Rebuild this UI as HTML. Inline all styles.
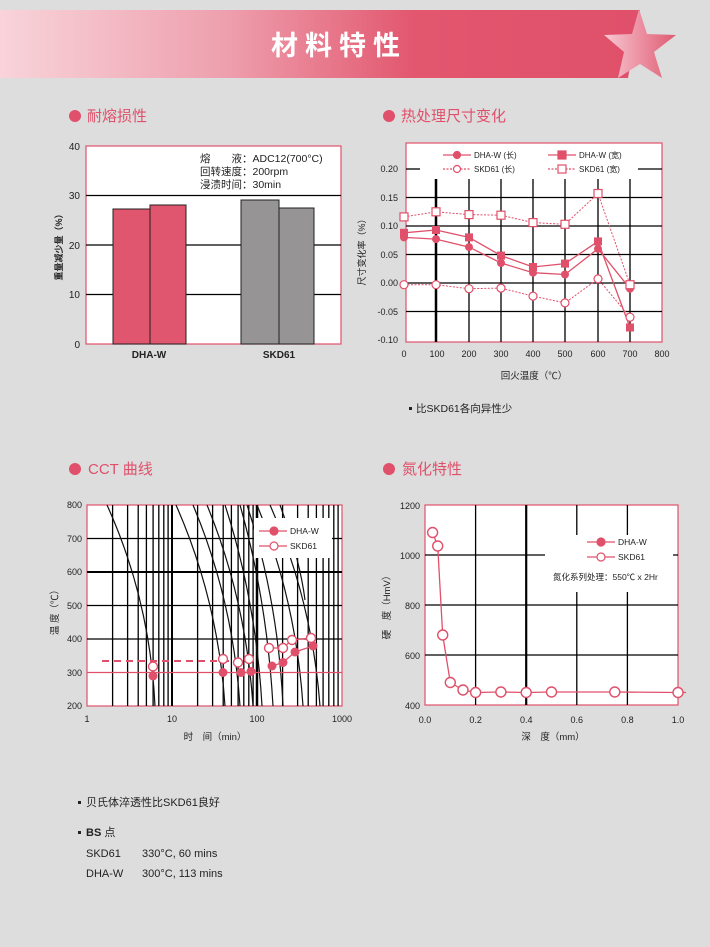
<!DOCTYPE html>
<html><head><meta charset="utf-8"><style>
html,body{margin:0;padding:0;background:#dddddd;}
svg{display:block;font-family:"Liberation Sans","Noto Sans CJK SC",sans-serif;}
</style></head><body>
<svg width="710" height="947" viewBox="0 0 710 947" xmlns="http://www.w3.org/2000/svg">
<defs>
<linearGradient id="bn" x1="0" x2="1" y1="0" y2="0">
<stop offset="0" stop-color="#f8d4da"/><stop offset="0.35" stop-color="#eea0ae"/><stop offset="0.65" stop-color="#e2566e"/><stop offset="1" stop-color="#e0506a"/></linearGradient>
<linearGradient id="st" x1="0" x2="1"><stop offset="0" stop-color="#f7c8d2"/><stop offset="1" stop-color="#e05a72"/></linearGradient>
</defs>
<rect width="710" height="947" fill="#dddddd"/>
<!-- banner -->
<polygon points="0,10 640,10 628,78 0,78" fill="url(#bn)"/>
<polygon points="639,9 647,34 676,35 654,52 662,78 640,64 618,78 624,52 604,35 632,34" fill="url(#st)"/>
<text x="339" y="55" font-size="27" font-weight="bold" fill="#fff" text-anchor="middle" letter-spacing="7">材料特性</text>

<!-- section headers -->
<g fill="#e0506a" font-size="15">
<circle cx="75" cy="116" r="6"/><text x="87" y="121">耐熔损性</text>
<circle cx="389" cy="116" r="6"/><text x="401" y="121">热处理尺寸变化</text>
<circle cx="75" cy="469" r="6"/><text x="88" y="474">CCT 曲线</text>
<circle cx="389" cy="469" r="6"/><text x="402" y="474">氮化特性</text>
</g>

<!-- chart1 -->
<rect x="86" y="146" width="255" height="198" fill="#fff" stroke="#e0506a" stroke-width="1.2"/>
<g stroke="#000" stroke-width="1.3"><line x1="86" y1="294.5" x2="341" y2="294.5"/><line x1="86" y1="245" x2="341" y2="245"/><line x1="86" y1="195.5" x2="341" y2="195.5"/></g>
<g stroke="#222" stroke-width="1">
<rect x="113" y="209" width="37" height="135" fill="#e0566e"/>
<rect x="150" y="205" width="36" height="139" fill="#e0566e"/>
<rect x="241" y="200" width="38" height="144" fill="#969494"/>
<rect x="279" y="208" width="35" height="136" fill="#969494"/>
</g>
<g font-size="10.5" fill="#222">
<text x="200" y="162">熔　　液：ADC12(700°C)</text>
<text x="200" y="175">回转速度：200rpm</text>
<text x="200" y="188">浸渍时间：30min</text>
</g>
<g font-size="10" fill="#222" text-anchor="end">
<text x="80" y="150">40</text><text x="80" y="199">30</text><text x="80" y="249">20</text><text x="80" y="298">10</text><text x="80" y="348">0</text>
</g>
<text x="62" y="245" font-size="9" font-weight="bold" fill="#222" transform="rotate(-90 62 245)" text-anchor="middle">重量减少量（%）</text>
<g font-size="10" font-weight="bold" fill="#222" text-anchor="middle"><text x="149" y="358">DHA-W</text><text x="279" y="358">SKD61</text></g>

<!-- chart2 -->
<rect x="406" y="143" width="256" height="199" fill="#fff" stroke="#e0506a" stroke-width="1.2"/>
<g stroke="#000" stroke-width="1.3">
<line x1="406" y1="169" x2="420" y2="169"/><line x1="638" y1="169" x2="662" y2="169"/>
<line x1="406" y1="197.5" x2="662" y2="197.5"/><line x1="406" y1="226" x2="662" y2="226"/><line x1="406" y1="254.5" x2="662" y2="254.5"/><line x1="406" y1="283" x2="662" y2="283"/><line x1="406" y1="311.5" x2="662" y2="311.5"/>
<line x1="436" y1="179" x2="436" y2="342" stroke-width="2.5"/><line x1="469" y1="179" x2="469" y2="342"/><line x1="501" y1="179" x2="501" y2="342"/><line x1="533" y1="179" x2="533" y2="342"/><line x1="565" y1="179" x2="565" y2="342"/><line x1="598" y1="179" x2="598" y2="342"/><line x1="630" y1="179" x2="630" y2="342"/>
</g>
<g fill="none" stroke="#e0506a">
<polyline stroke-width="1.3" points="404,237.4 436,239.1 469,247.1 501,263 533,272.7 565,274.5 598,248.8 630,288.7"/>
<polyline stroke-width="1.3" points="404,232.8 436,230 469,237.4 501,255.6 533,267 565,263.6 598,241.4 630,327.5"/>
<polyline stroke-width="1" stroke-dasharray="2,1.5" points="404,284.7 436,284.7 469,288.7 501,288.1 533,296.1 565,302.9 598,278.9 630,317.2"/>
<polyline stroke-width="1" stroke-dasharray="2,1.5" points="404,216.9 436,211.8 469,214.6 501,215.2 533,222.6 565,224.3 598,193.5 630,284.7"/>
</g>
<g fill="#e0506a">
<circle cx="404" cy="237.4" r="4"/><circle cx="436" cy="239.1" r="4"/><circle cx="469" cy="247.1" r="4"/><circle cx="501" cy="263" r="4"/><circle cx="533" cy="272.7" r="4"/><circle cx="565" cy="274.5" r="4"/><circle cx="598" cy="248.8" r="4"/><circle cx="630" cy="288.7" r="4"/>
<rect x="400" y="228.8" width="8" height="8"/><rect x="432" y="226" width="8" height="8"/><rect x="465" y="233.4" width="8" height="8"/><rect x="497" y="251.6" width="8" height="8"/><rect x="529" y="263" width="8" height="8"/><rect x="561" y="259.6" width="8" height="8"/><rect x="594" y="237.4" width="8" height="8"/><rect x="626" y="323.5" width="8" height="8"/>
</g>
<g fill="#fff" stroke="#e0506a" stroke-width="1.2">
<circle cx="404" cy="284.7" r="4"/><circle cx="436" cy="284.7" r="4"/><circle cx="469" cy="288.7" r="4"/><circle cx="501" cy="288.1" r="4"/><circle cx="533" cy="296.1" r="4"/><circle cx="565" cy="302.9" r="4"/><circle cx="598" cy="278.9" r="4"/><circle cx="630" cy="317.2" r="4"/>
<rect x="400" y="212.9" width="8" height="8"/><rect x="432" y="207.8" width="8" height="8"/><rect x="465" y="210.6" width="8" height="8"/><rect x="497" y="211.2" width="8" height="8"/><rect x="529" y="218.6" width="8" height="8"/><rect x="561" y="220.3" width="8" height="8"/><rect x="594" y="189.5" width="8" height="8"/><rect x="626" y="280.7" width="8" height="8"/>
</g>
<!-- legend2 -->
<g stroke="#e0506a" stroke-width="1.2">
<line x1="443" y1="155" x2="471" y2="155"/><circle cx="457" cy="155" r="3.5" fill="#e0506a"/>
<line x1="443" y1="169" x2="471" y2="169" stroke-dasharray="2,1.5"/><circle cx="457" cy="169" r="3.5" fill="#fff"/>
<line x1="548" y1="155" x2="576" y2="155"/><rect x="558" y="151" width="8" height="8" fill="#e0506a"/>
<line x1="548" y1="169" x2="576" y2="169" stroke-dasharray="2,1.5"/><rect x="558" y="165" width="8" height="8" fill="#fff"/>
</g>
<g font-size="8" fill="#222"><text x="474" y="158">DHA-W (长)</text><text x="474" y="172">SKD61 (长)</text><text x="579" y="158">DHA-W (宽)</text><text x="579" y="172">SKD61 (宽)</text></g>
<g font-size="9" fill="#222" text-anchor="end">
<text x="398" y="172">0.20</text><text x="398" y="201">0.15</text><text x="398" y="229">0.10</text><text x="398" y="258">0.05</text><text x="398" y="286">0.00</text><text x="398" y="315">-0.05</text><text x="398" y="343">-0.10</text>
</g>
<g font-size="9" fill="#222" text-anchor="middle">
<text x="404" y="357">0</text><text x="437" y="357">100</text><text x="469" y="357">200</text><text x="501" y="357">300</text><text x="533" y="357">400</text><text x="565" y="357">500</text><text x="598" y="357">600</text><text x="630" y="357">700</text><text x="662" y="357">800</text>
</g>
<text x="534" y="379" font-size="9.5" fill="#222" text-anchor="middle">回火温度（℃）</text>
<text x="365" y="250" font-size="9" fill="#222" transform="rotate(-90 365 250)" text-anchor="middle">尺寸变化率（%）</text>
<rect x="409" y="407" width="3" height="3" fill="#222"/>
<text x="416" y="412" font-size="10.5" fill="#222">比SKD61各向异性少</text>

<!-- chart3 -->
<rect x="87" y="505" width="255" height="201" fill="#fff" stroke="#e0506a" stroke-width="1.2"/>
<g stroke="#000" stroke-width="1.3">
<line x1="87" y1="639" x2="342" y2="639"/><line x1="87" y1="605.5" x2="342" y2="605.5"/><line x1="87" y1="572" x2="342" y2="572" stroke-width="2"/><line x1="87" y1="538.5" x2="342" y2="538.5"/>
<line x1="112.6" y1="505" x2="112.6" y2="706"/><line x1="127.6" y1="505" x2="127.6" y2="706"/><line x1="138.2" y1="505" x2="138.2" y2="706"/><line x1="146.4" y1="505" x2="146.4" y2="706"/><line x1="153.1" y1="505" x2="153.1" y2="706"/><line x1="158.8" y1="505" x2="158.8" y2="706"/><line x1="163.8" y1="505" x2="163.8" y2="706"/><line x1="168.1" y1="505" x2="168.1" y2="706"/><line x1="172" y1="505" x2="172" y2="706" stroke-width="2"/>
<line x1="197.6" y1="505" x2="197.6" y2="706"/><line x1="212.6" y1="505" x2="212.6" y2="706"/><line x1="223.2" y1="505" x2="223.2" y2="706"/><line x1="231.4" y1="505" x2="231.4" y2="706"/><line x1="238.1" y1="505" x2="238.1" y2="706"/><line x1="243.8" y1="505" x2="243.8" y2="706"/><line x1="248.8" y1="505" x2="248.8" y2="706"/><line x1="253.1" y1="505" x2="253.1" y2="706"/><line x1="257" y1="505" x2="257" y2="706" stroke-width="2.5"/>
<line x1="282.6" y1="505" x2="282.6" y2="706"/><line x1="297.6" y1="505" x2="297.6" y2="706"/><line x1="308.2" y1="505" x2="308.2" y2="706"/><line x1="316.4" y1="505" x2="316.4" y2="706"/><line x1="323.1" y1="505" x2="323.1" y2="706"/><line x1="328.8" y1="505" x2="328.8" y2="706"/><line x1="333.8" y1="505" x2="333.8" y2="706"/><line x1="338.1" y1="505" x2="338.1" y2="706"/>
</g>
<g fill="none" stroke="#111" stroke-width="1.2">
<path d="M107,505 Q150,600 155,706"/><path d="M176,505 Q218,600 225,706"/><path d="M193,505 Q233,600 240,706"/><path d="M207,505 Q246,600 253,706"/><path d="M225,505 Q256,600 262,706"/><path d="M240,505 Q267,600 273,706"/><path d="M247,505 Q278,600 283,706"/><path d="M257,505 Q296,600 303,706"/><path d="M270,505 Q312,600 320,706"/><path d="M280,505 Q300,560 305,600"/>
</g>
<line x1="87" y1="672.5" x2="342" y2="672.5" stroke="#e0506a" stroke-width="1.3"/>
<line x1="102" y1="661" x2="250" y2="661" stroke="#e0506a" stroke-width="2" stroke-dasharray="7,5"/>
<polyline fill="none" stroke="#e0506a" stroke-width="1.3" points="272,666 283,662.5 295,652 313,646"/>
<polyline fill="none" stroke="#e0506a" stroke-width="1.3" points="269,648 283,648 292,640 311,638"/>
<g fill="#e0506a"><circle cx="153" cy="676" r="4.5"/><circle cx="223" cy="672.5" r="4.5"/><circle cx="241" cy="672.5" r="4.5"/><circle cx="251" cy="671.5" r="4.5"/><circle cx="272" cy="666" r="4.5"/><circle cx="283" cy="662.5" r="4.5"/><circle cx="295" cy="652" r="4.5"/><circle cx="313" cy="646" r="4.5"/></g>
<g fill="#fff" stroke="#e0506a" stroke-width="1.4"><circle cx="153" cy="666.5" r="4.5"/><circle cx="223" cy="659" r="4.5"/><circle cx="238" cy="662.5" r="4.5"/><circle cx="249" cy="659" r="4.5"/><circle cx="269" cy="648" r="4.5"/><circle cx="283" cy="648" r="4.5"/><circle cx="292" cy="640" r="4.5"/><circle cx="311" cy="638" r="4.5"/></g>
<rect x="254" y="518" width="78" height="40" fill="#fff"/>
<g stroke="#e0506a" stroke-width="1.2"><line x1="259" y1="531" x2="287" y2="531"/><circle cx="274" cy="531" r="4" fill="#e0506a"/><line x1="259" y1="546" x2="287" y2="546"/><circle cx="274" cy="546" r="4" fill="#fff"/></g>
<g font-size="8.5" fill="#222"><text x="290" y="534">DHA-W</text><text x="290" y="549">SKD61</text></g>
<g font-size="9" fill="#222" text-anchor="end">
<text x="82" y="508">800</text><text x="82" y="542">700</text><text x="82" y="575">600</text><text x="82" y="609">500</text><text x="82" y="642">400</text><text x="82" y="676">300</text><text x="82" y="709">200</text>
</g>
<g font-size="9" fill="#222" text-anchor="middle"><text x="87" y="722">1</text><text x="172" y="722">10</text><text x="257" y="722">100</text><text x="342" y="722">1000</text></g>
<text x="215" y="740" font-size="9.5" fill="#222" text-anchor="middle">时　间（min）</text>
<text x="58" y="610" font-size="9.5" fill="#222" transform="rotate(-90 58 610)" text-anchor="middle">温 度（℃）</text>

<!-- chart4 -->
<rect x="425" y="505" width="253" height="200" fill="#fff" stroke="#e0506a" stroke-width="1.2"/>
<g stroke="#000" stroke-width="1.3">
<line x1="425" y1="655" x2="678" y2="655"/><line x1="425" y1="605" x2="678" y2="605"/><line x1="425" y1="555" x2="678" y2="555"/>
<line x1="475.6" y1="505" x2="475.6" y2="705"/><line x1="526.2" y1="505" x2="526.2" y2="705" stroke-width="2.2"/><line x1="576.8" y1="505" x2="576.8" y2="705"/><line x1="627.4" y1="505" x2="627.4" y2="705"/>
</g>
<rect x="545" y="535" width="128" height="57" fill="#fff"/>
<polyline fill="none" stroke="#e0506a" stroke-width="1.3" points="432.6,532.5 437.7,546 442.7,635 450.3,682.5 463,690 475.6,692.5 500.9,692 526.2,692.5 551.5,692 614.8,692 678,692.5 686,692.5"/>
<g fill="#fff" stroke="#e0506a" stroke-width="1.4"><circle cx="432.6" cy="532.5" r="5"/><circle cx="437.7" cy="546" r="5"/><circle cx="442.7" cy="635" r="5"/><circle cx="450.3" cy="682.5" r="5"/><circle cx="463" cy="690" r="5"/><circle cx="475.6" cy="692.5" r="5"/><circle cx="500.9" cy="692" r="5"/><circle cx="526.2" cy="692.5" r="5"/><circle cx="551.5" cy="692" r="5"/><circle cx="614.8" cy="692" r="5"/><circle cx="678" cy="692.5" r="5"/></g>
<g stroke="#e0506a" stroke-width="1.2"><line x1="587" y1="542" x2="615" y2="542"/><circle cx="601" cy="542" r="4" fill="#e0506a"/><line x1="587" y1="557" x2="615" y2="557"/><circle cx="601" cy="557" r="4" fill="#fff"/></g>
<g font-size="8.5" fill="#222"><text x="618" y="545">DHA-W</text><text x="618" y="560">SKD61</text><text x="553" y="580">氮化系列处理：550℃ x 2Hr</text></g>
<g font-size="9" fill="#222" text-anchor="end">
<text x="420" y="509">1200</text><text x="420" y="559">1000</text><text x="420" y="609">800</text><text x="420" y="659">600</text><text x="420" y="709">400</text>
</g>
<g font-size="9" fill="#222" text-anchor="middle"><text x="425" y="723">0.0</text><text x="475.6" y="723">0.2</text><text x="526.2" y="723">0.4</text><text x="576.8" y="723">0.6</text><text x="627.4" y="723">0.8</text><text x="678" y="723">1.0</text></g>
<text x="553" y="740" font-size="9.5" fill="#222" text-anchor="middle">深　度（mm）</text>
<text x="390" y="605" font-size="9.5" fill="#222" transform="rotate(-90 390 605)" text-anchor="middle">硬　度（HmV）</text>

<!-- bottom text -->
<g font-size="11" fill="#222">
<rect x="78" y="801" width="3" height="3"/><text x="86" y="806">贝氏体淬透性比SKD61良好</text>
<rect x="78" y="831" width="3" height="3"/><text x="86" y="836" font-weight="bold">BS <tspan font-weight="normal">点</tspan></text>
<text x="86" y="857">SKD61</text><text x="142" y="857">330°C, 60 mins</text>
<text x="86" y="877">DHA-W</text><text x="142" y="877">300°C, 113 mins</text>
</g>
</svg>
</body></html>
